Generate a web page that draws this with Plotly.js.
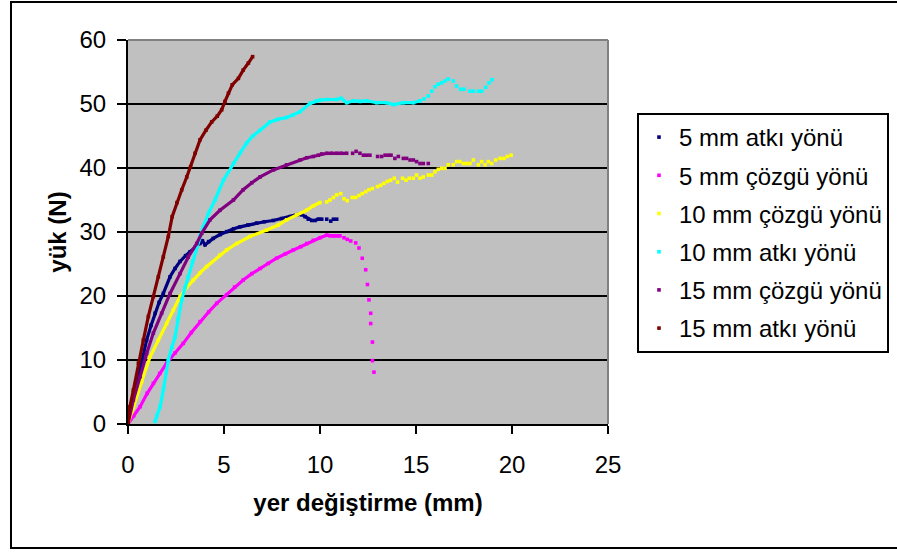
<!DOCTYPE html>
<html><head><meta charset="utf-8">
<script src="https://cdn.plot.ly/plotly-3.0.1.min.js"></script>
<style>html,body{margin:0;padding:0;background:#fff}#chart{width:897px;height:552px}</style>
</head><body><div id="chart"></div>
<script>
const seriesNames = ["5 mm atkı yönü", "5 mm çözgü yönü", "10 mm çözgü yönü", "10 mm atkı yönü", "15 mm çözgü yönü", "15 mm atkı yönü"];

const x5atki = [0,0.2,0.45,0.7,0.97,1.2,1.41,1.62,1.84,2.19,2.45,2.71,3.0,3.23,3.5,3.75,3.88,4.01,4.2,4.44,4.8,5.14,5.5,5.83,6.25,6.7,7.1,7.57,8.0,8.44,8.79,9.05,9.22,9.39,9.57,9.74,9.91,10.09,10.35,10.56,10.7,10.87];
const y5atki = [0,2.5,5.8,9.5,13.1,15.4,17.3,19.0,20.4,23.0,24.3,25.4,26.3,26.9,27.6,28.2,28.6,28.0,28.5,29.0,29.6,30.05,30.5,30.8,31.1,31.4,31.6,31.8,32.1,32.4,32.7,32.7,32.4,32.0,31.8,31.8,32.0,32.0,32.0,31.7,32.0,32.0];

const x5cozgu = [0,0.3,0.63,1.0,1.32,1.65,2.01,2.45,2.88,3.3,3.75,4.2,4.62,5.14,5.55,6.0,6.45,6.88,7.3,7.74,8.2,8.61,9.0,9.31,9.65,10.0,10.35,10.52,10.7,10.87,11.04,11.25,11.42,11.6,11.86,12.03,12.2,12.38,12.47,12.55,12.64,12.64,12.73,12.73,12.81];
const y5cozgu = [0,1.3,2.7,4.8,6.35,7.9,9.5,11.1,12.6,14.3,16.0,17.5,18.85,20.2,21.4,22.5,23.5,24.3,25.1,25.9,26.6,27.2,27.7,28.2,28.7,29.1,29.5,29.4,29.4,29.4,29.4,29.1,28.85,28.6,28.3,27.5,25.9,24.1,21.8,19.4,17.3,15.7,12.8,9.9,8.1];

const x10cozgu = [0,0.28,0.71,1.15,1.58,2.01,2.36,2.71,3.05,3.4,3.75,4.1,4.79,5.14,5.66,6.35,7.22,7.83,8.26,8.79,9.31,9.65,10.0,
  10.35,10.52,10.7,10.87,11.08,11.25,11.42,11.68,11.86,12.03,12.2,12.38,12.55,12.73,12.99,13.16,13.33,13.51,13.68,13.87,14.04,14.3,14.48,14.65,14.86,15.03,15.21,15.38,15.64,15.82,15.99,16.16,16.34,16.51,16.68,16.94,17.12,17.29,17.47,17.64,17.81,17.99,18.25,18.42,18.6,18.77,18.94,19.15,19.38,19.58,19.76,19.95];
const y10cozgu = [0,2.7,6.6,10.5,13.1,15.7,17.8,19.9,21.3,22.5,23.6,24.6,26.4,27.2,28.2,29.3,30.3,31.1,31.9,32.7,33.4,34.1,34.6,
  34.7,35.0,35.4,35.8,36.0,35.2,34.9,35.4,35.4,35.7,36.0,36.3,36.6,36.8,37.1,37.3,37.6,37.9,38.1,38.4,37.8,38.4,38.1,38.4,38.4,38.9,38.4,38.6,38.9,38.9,39.4,39.8,39.95,39.95,40.5,40.5,41.0,41.0,40.7,40.7,40.7,41.25,40.5,41.0,40.5,41.0,40.7,41.25,41.5,41.5,41.8,42.0];

const x10atki = [1.41,1.5,1.67,1.85,2.1,2.28,2.45,2.62,2.8,2.97,3.14,3.36,3.58,3.75,3.92,4.2,4.53,4.97,5.49,5.85,6.18,6.5,6.88,7.4,7.8,8.26,8.6,8.96,9.48,9.83,10.0,10.35,10.87,11.1,11.39,11.74,12.1,12.43,12.95,13.47,13.82,14.34,14.86,15.21,
  15.42,15.64,15.82,15.99,16.16,16.34,16.51,16.68,16.94,17.12,17.33,17.5,17.81,17.99,18.25,18.42,18.63,18.8,18.97];
const y10atki = [0.4,1.3,2.7,5.5,10,12,13.6,16.5,19.4,21.3,23,25.4,27.7,29.5,30.8,33,35,38.1,40.7,42.4,43.9,45,45.9,47.2,47.6,47.9,48.3,48.8,50.1,50.5,50.6,50.7,50.7,50.9,50.2,50.5,50.4,50.5,50.2,50.2,49.9,50.2,50.2,50.5,
  50.8,51.25,52.0,52.7,53.1,53.3,53.6,53.9,53.6,52.8,52.3,52.3,52.0,52.0,52.0,52.0,52.6,53.3,53.8];

const x15cozgu = [0,0.28,0.63,0.97,1.32,1.75,2.19,2.71,3.14,3.58,3.84,4.27,4.79,5.49,6.0,6.45,6.88,7.57,8.26,8.96,9.31,9.65,9.91,10.09,10.35,10.6,10.87,11.1,11.39,
  11.7,11.88,12.08,12.26,12.43,12.6,13.0,13.21,13.39,13.56,13.7,13.9,14.08,14.34,14.51,14.69,14.86,15.03,15.21,15.38,15.64];
const y15cozgu = [0,3.75,7.4,11.0,14.2,17.3,20.4,23.5,26.1,28.2,29.8,31.9,33.4,35.0,36.6,37.7,38.6,39.7,40.5,41.25,41.6,41.8,42.0,42.2,42.3,42.3,42.3,42.3,42.3,
  42.3,42.6,42.3,42.0,42.0,42.0,41.8,41.8,42.0,42.0,42.0,41.5,41.8,41.5,41.5,41.25,41.25,41.0,40.7,40.7,40.7];

const x15atki = [0,0.1,0.28,0.54,0.8,1.06,1.32,1.58,1.84,2.1,2.3,2.55,2.8,3.06,3.26,3.49,3.75,4.06,4.36,4.65,4.88,5.05,5.23,5.43,5.75,6.0,6.27,6.49];
const y15atki = [0,2.7,5.3,9.5,13.1,16.8,19.9,23.0,26.1,29.3,32.4,34.6,36.6,38.6,40.2,42.3,44.4,45.9,47.2,48.1,49.1,50.4,51.7,53.0,54.0,55.3,56.4,57.4];

const xTitle = "yer değiştirme (mm)";
const yTitle = "yük (N)";

const xs = [x5atki, x5cozgu, x10cozgu, x10atki, x15cozgu, x15atki];
const ys = [y5atki, y5cozgu, y10cozgu, y10atki, y15cozgu, y15atki];
const colors = ["#000080", "#ff00ff", "#ffff00", "#00ffff", "#800080", "#800000"];
// points up to this x are densely packed (drawn as a continuous band)
const denseUntil = [10.1, 11.05, 10.0, 15.22, 11.4, 6.6];

const FONT = "Liberation Sans, Arial, sans-serif";
const traces = [];
seriesNames.forEach((name, i) => {
  const lx = [], ly = [];
  xs[i].forEach((v, k) => { if (v <= denseUntil[i]) { lx.push(v); ly.push(ys[i][k]); } });
  traces.push({type: "scatter", mode: "lines", x: lx, y: ly, name: name, legendgroup: "g" + i,
    showlegend: false, hoverinfo: "skip", line: {color: colors[i], width: 3.2}});
  traces.push({type: "scatter", mode: "markers", x: xs[i], y: ys[i], name: name, legendgroup: "g" + i,
    marker: {color: colors[i], symbol: "square", size: 3.6, line: {width: 0}}});
});

const layout = {
  width: 897, height: 552,
  margin: {l: 128, r: 289, t: 40, b: 128, autoexpand: false},
  paper_bgcolor: "#ffffff", plot_bgcolor: "#c0c0c0",
  font: {family: FONT, color: "#000", size: 24},
  showlegend: true,
  legend: {x: 1.0604, xanchor: "left", y: 0.8099, yanchor: "top", bgcolor: "#fff",
    bordercolor: "#000", borderwidth: 2, font: {family: FONT, size: 24, color: "#000"},
    tracegroupgap: 4, itemwidth: 30},
  xaxis: {range: [0, 25], dtick: 5, tick0: 0, ticks: "outside", ticklen: 8, tickwidth: 2, tickcolor: "#000",
    showline: true, linecolor: "#000", linewidth: 2, showgrid: false, zeroline: false,
    ticklabelstandoff: 10,
    tickfont: {family: FONT, size: 24, color: "#000"},
    title: {text: xTitle, standoff: 17, font: {family: FONT, size: 24, color: "#000", weight: "bold"}}},
  yaxis: {range: [0, 60], dtick: 10, tick0: 0, ticks: "outside", ticklen: 9, tickwidth: 2, tickcolor: "#000",
    showline: true, linecolor: "#000", linewidth: 2, showgrid: true, gridcolor: "#000", gridwidth: 1.5, zeroline: false,
    ticklabelstandoff: 6,
    tickfont: {family: FONT, size: 24, color: "#000"},
    title: {text: yTitle, standoff: 6, font: {family: FONT, size: 24, color: "#000", weight: "bold"}}},
  shapes: [
    {type: "line", xref: "paper", yref: "paper", x0: 0, x1: 1, y0: 1, y1: 1, line: {color: "#808080", width: 2}, layer: "above"},
    {type: "line", xref: "paper", yref: "paper", x0: 1, x1: 1, y0: 0, y1: 1, line: {color: "#808080", width: 2}, layer: "above"},
    {type: "rect", xref: "paper", yref: "paper", x0: -0.24375, x1: 1.61, y0: -0.3229, y1: 1.099,
      line: {color: "#000", width: 2}, fillcolor: "rgba(0,0,0,0)", layer: "above"}
  ]
};

Plotly.newPlot("chart", traces, layout, {displayModeBar: false, staticPlot: true});
</script>
</body></html>
